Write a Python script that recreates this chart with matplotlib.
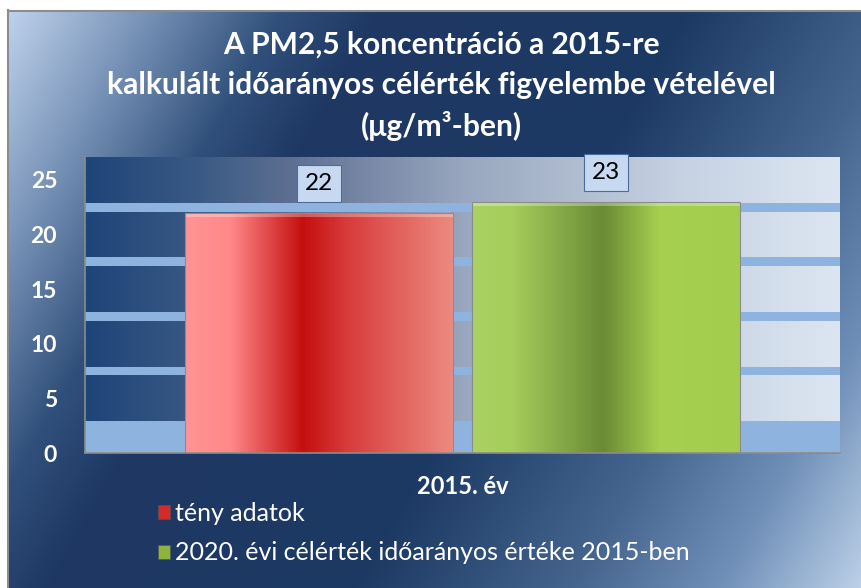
import matplotlib
matplotlib.use("Agg")
import matplotlib.pyplot as plt
import numpy as np
from matplotlib.colors import to_rgb
from matplotlib.patches import Patch

# data
categories = ["2015. év"]
series_names = ["tény adatok", "2020. évi célérték időarányos értéke 2015-ben"]
values = [22, 23]
y_ticks = [0, 5, 10, 15, 20, 25]
title = ("A PM2,5 koncentráció a 2015-re\n"
         "kalkulált időarányos célérték figyelembe vételével\n"
         "(μg/m³-ben)")

plt.rcParams['font.family'] = ['Lato', 'DejaVu Sans']

# colour ramps (position, colour)
bg_stops = [(0.0, '#c6d9f1'), (0.12, '#7d97bb'), (0.24, '#30507b'),
            (0.32, '#1f3864'), (0.58, '#1c3a63'), (0.76, '#45658f'),
            (0.88, '#6f8fb8'), (1.0, '#bdd1e8')]
plot_stops = [(0.0, '#1f4478'), (0.15, '#3a5a85'), (0.26, '#5a6d90'),
              (0.5, '#98a6be'), (0.79, '#c6d2e2'), (1.0, '#dce6f2')]
bar_stops = [
    [(0.0, '#ff9494'), (0.17, '#ff8888'), (0.44, '#c40f0f'),
     (0.6, '#d83a3a'), (1.0, '#ec8a80')],
    [(0.0, '#aad262'), (0.15, '#a5cd5c'), (0.49, '#6a8a34'),
     (0.7, '#a6d050'), (1.0, '#a3cd4c')],
]
legend_colors = ['#d42a2a', '#8cb43c']


def ramp(stops, t):
    pos = [s[0] for s in stops]
    cols = np.array([to_rgb(s[1]) for s in stops])
    return np.stack([np.interp(t, pos, cols[:, i]) for i in range(3)], axis=-1)


W, H = 862, 588
fig = plt.figure(figsize=(W / 100, H / 100), dpi=100)

# chart area background with diagonal gradient
bg = fig.add_axes([0, 0, 1, 1], zorder=-10)
yy, xx = np.mgrid[0:H, 0:W]
u = 0.866 * xx + 0.5 * yy
u = (u - u.min()) / (u.max() - u.min())
img = ramp(bg_stops, u)
img[:10, :] = 1.0
img[:, :8] = 1.0
bg.imshow(img, extent=[0, W, H, 0], aspect='auto', interpolation='bilinear')
bg.plot([8, W], [10.5, 10.5], color='#8c8c8c', lw=1.5)
bg.plot([8.5, 8.5], [10, H], color='#8c8c8c', lw=1.5)
bg.set_xlim(0, W)
bg.set_ylim(H, 0)
bg.axis('off')

# plot area
ymax = 27.1
ax = fig.add_axes([85 / W, (H - 453) / H, 755 / W, 296 / H])
grad = ramp(plot_stops, np.linspace(0, 1, 256))[None, :, :]
ax.imshow(grad, extent=[-0.5, 0.5, 0, ymax], aspect='auto', zorder=0)

# gridline bands (3d wall look)
band_col = '#8fb3df'
ax.axhspan(0, 2.9, color=band_col, lw=0, zorder=1)
for t in y_ticks[1:-1]:
    ax.axhspan(t + 2.1, t + 2.9, color=band_col, lw=0, zorder=1)

x = np.arange(len(categories))
offsets = [-0.19, 0.19]
width = 0.354
for i, name in enumerate(series_names):
    bars = ax.bar(x + offsets[i], [values[i]], width, color='none',
                  edgecolor='#8c8c8c', lw=0.8, zorder=3)
    for rect in bars:
        x0, w, h = rect.get_x(), rect.get_width(), rect.get_height()
        g = ramp(bar_stops[i], np.linspace(0, 1, 256))[None, :, :]
        im = ax.imshow(g, extent=[x0, x0 + w, 0, h], aspect='auto', zorder=2)
        im.set_clip_path(rect)
        # light bevel on top
        ax.fill_between([x0, x0 + w], h - 0.35, h, color='white', alpha=0.3,
                        lw=0, zorder=2.5)
        ax.annotate(str(values[i]), (x0 + w / 2, h), xytext=(0, 21),
                    textcoords='offset points', ha='center', va='center',
                    fontsize=17.5, color='black', zorder=5,
                    bbox=dict(boxstyle='square,pad=0.34', fc='#c6d9f1',
                              ec='#4a6d99', lw=0.8))

ax.set_xlim(-0.5, 0.5)
ax.set_ylim(0, ymax)
ax.set_yticks(y_ticks)
ax.set_yticklabels([str(t) for t in y_ticks], fontsize=16.5, fontweight='bold',
                   color='white')
ax.set_xticks(x)
ax.set_xticklabels(categories, fontsize=17, fontweight='bold', color='white')
ax.tick_params(axis='y', length=0, pad=20)
ax.tick_params(axis='x', length=0, pad=16)
for s in ['top', 'right']:
    ax.spines[s].set_visible(False)
for s in ['left', 'bottom']:
    ax.spines[s].set_color('#8c8c8c')
    ax.spines[s].set_linewidth(1.2)

fig.text(441 / W, 1 - 86 / H, title, ha='center', va='center', color='white',
         fontsize=21.6, fontweight='bold', linespacing=1.5)

handles = [Patch(facecolor=c, edgecolor='#555555', lw=0.5) for c in legend_colors]
fig.legend(handles, series_names, loc='upper left',
           bbox_to_anchor=(158 / W, 1 - 502 / H), frameon=False, fontsize=18,
           labelcolor='white', handlelength=0.5, handleheight=0.5,
           handletextpad=0.2, labelspacing=0.66, borderpad=0, borderaxespad=0)

fig.savefig('out.png', dpi=100)
